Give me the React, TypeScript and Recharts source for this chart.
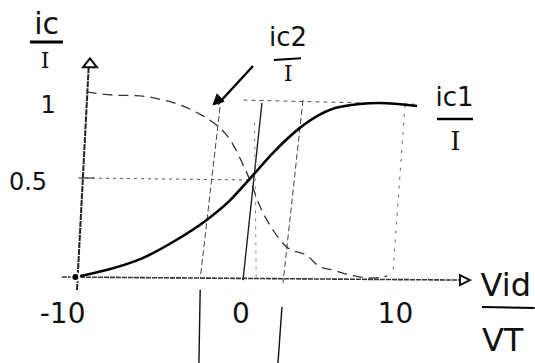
import React from 'react';
import { ComposedChart, Line, XAxis, YAxis, ReferenceLine, ReferenceDot } from 'recharts';

// ic1/I (solid) sampled along vid/VT
const ic1X = [-10.6, -8.6, -6.4, -4.4, -2.5, -1.0, 0.2, 1.75, 3.45, 5.9, 8.4, 10.75];
const ic1Y = [0, 0.04, 0.105, 0.2, 0.31, 0.42, 0.535, 0.69, 0.83, 0.944, 0.967, 0.95];

// ic2/I (dashed)
const ic2X = [-9.9, -8.25, -6.55, -5.1, -4.05, -2.95, -2.2, -0.8, -0.1, 0.3, 0.95, 1.75, 2.6, 3.9, 4.7, 5.5, 6.55, 8.0, 8.9];
const ic2Y = [1.028, 1.011, 1.006, 0.983, 0.956, 0.911, 0.872, 0.744, 0.62, 0.54, 0.39, 0.261, 0.167, 0.117, 0.056, 0.039, 0.011, -0.006, 0.006];

// tick labels
const xTickLabels = ['-10', '0', '10'];
const xTickPos = [-11.4, -0.25, 9.4];
const yTickLabels = ['1', '0.5'];
const yTickPos = [0.96, 0.53];

const ic1Data = ic1X.map((u, i) => ({ u, v: ic1Y[i] }));
const ic2Data = ic2X.map((u, i) => ({ u, v: ic2Y[i] }));

const X_DOMAIN: [number, number] = [-245 / 16, 290 / 16];
const Y_DOMAIN: [number, number] = [-86 / 180, 277 / 180];

const FONT = 'DejaVu Sans, sans-serif';
const SERIF = 'DejaVu Serif, serif';
const INK = '#111';

const txt = (value: string, size: number, family: string) => ({
  value,
  position: 'center' as const,
  fontSize: size,
  fill: INK,
  fontFamily: family,
});

const Txt = (u: number, v: number, value: string, size: number, key: string, family: string = FONT) => (
  <ReferenceDot key={key} x={u} y={v} r={1} fill="none" stroke="none" ifOverflow="visible" label={txt(value, size, family)} />
);

const seg = (x1: number, y1: number, x2: number, y2: number) => [
  { x: x1, y: y1 },
  { x: x2, y: y2 },
];

export default function App() {
  return (
    <div style={{ position: 'absolute', left: 0, top: 0, background: '#fff' }}>
      <ComposedChart width={535} height={363} margin={{ top: 0, right: 0, bottom: 0, left: 0 }}>
        <XAxis dataKey="u" type="number" domain={X_DOMAIN} allowDataOverflow hide />
        <YAxis dataKey="v" type="number" domain={Y_DOMAIN} allowDataOverflow hide />

        {/* axes */}
        <ReferenceLine segment={seg(-11.44, 0, 13.4, -0.017)} stroke="#333" strokeWidth={1.6} strokeDasharray="5 1" ifOverflow="visible" />
        <ReferenceLine segment={seg(-10.5, -0.072, -9.75, 1.2)} stroke="#222" strokeWidth={2} strokeDasharray="6 1" ifOverflow="visible" />
        <ReferenceLine segment={seg(-10.4, 0.55, -9.4, 0.55)} stroke="#333" strokeWidth={1.2} ifOverflow="visible" />
        <ReferenceDot
          x={14.06}
          y={-0.017}
          r={1}
          ifOverflow="visible"
          shape={(p: any) => (
            <path d={`M${p.cx} ${p.cy} L${p.cx - 10} ${p.cy - 5} L${p.cx - 10} ${p.cy + 5} Z`} fill="#fff" stroke="#111" strokeWidth={2} />
          )}
        />
        <ReferenceDot
          x={-9.69}
          y={1.215}
          r={1}
          ifOverflow="visible"
          shape={(p: any) => (
            <path d={`M${p.cx} ${p.cy} L${p.cx - 7} ${p.cy + 9} L${p.cx + 7} ${p.cy + 9} Z`} fill="#fff" stroke="#111" strokeWidth={2} />
          )}
        />

        {/* dotted guides */}
        <ReferenceLine segment={seg(-10, 0.55, 0.3, 0.539)} stroke="#555" strokeWidth={1} strokeDasharray="3 4" ifOverflow="visible" />
        <ReferenceLine segment={seg(-0.1, 0.983, 10.6, 0.96)} stroke="#555" strokeWidth={1} strokeDasharray="4 4" ifOverflow="visible" />
        <ReferenceLine segment={seg(-1.56, 0.944, -2.8, -0.01)} stroke="#444" strokeWidth={1} strokeDasharray="6 3" ifOverflow="visible" />
        <ReferenceLine segment={seg(-2.8, -0.07, -2.88, -0.478)} stroke="#111" strokeWidth={1.4} ifOverflow="visible" />
        <ReferenceLine segment={seg(1.06, 0.967, -0.125, -0.017)} stroke="#222" strokeWidth={1.4} ifOverflow="visible" />
        <ReferenceLine segment={seg(0.6, 0.86, 0.7, -0.01)} stroke="#888" strokeWidth={1} strokeDasharray="3 5" ifOverflow="visible" />
        <ReferenceLine segment={seg(3.625, 0.983, 2.375, -0.033)} stroke="#444" strokeWidth={1} strokeDasharray="6 3" ifOverflow="visible" />
        <ReferenceLine segment={seg(2.31, -0.167, 2.06, -0.478)} stroke="#111" strokeWidth={1.4} ifOverflow="visible" />
        <ReferenceLine segment={seg(10, 0.956, 9.25, 0.028)} stroke="#666" strokeWidth={1} strokeDasharray="3 6" ifOverflow="visible" />

        {/* curves */}
        <Line data={ic2Data} dataKey="v" type="monotone" stroke="#333" strokeWidth={1.3} strokeDasharray="10 6" dot={false} isAnimationActive={false} />
        <Line data={ic1Data} dataKey="v" type="monotone" stroke="#000" strokeWidth={2.6} dot={false} isAnimationActive={false} />

        {/* pointer arrow */}
        <ReferenceLine segment={seg(0.5, 1.172, -1.7, 0.96)} stroke="#000" strokeWidth={2.4} ifOverflow="visible" />
        <ReferenceDot
          x={-2}
          y={0.956}
          r={1}
          ifOverflow="visible"
          shape={(p: any) => (
            <path d={`M${p.cx} ${p.cy} L${p.cx + 11} ${p.cy - 3.5} L${p.cx + 4} ${p.cy - 11} Z`} fill="#000" stroke="#000" strokeWidth={1} />
          )}
        />

        {/* fraction bars */}
        <ReferenceLine segment={seg(-13.44, 1.306, -11.375, 1.306)} stroke="#000" strokeWidth={3} ifOverflow="visible" />
        <ReferenceLine segment={seg(1.8, 1.206, 3.5, 1.215)} stroke="#000" strokeWidth={2} ifOverflow="visible" />
        <ReferenceLine segment={seg(12, 0.878, 14.25, 0.878)} stroke="#000" strokeWidth={2.5} ifOverflow="visible" />
        <ReferenceLine segment={seg(14.81, -0.167, 18.1, -0.172)} stroke="#000" strokeWidth={2} ifOverflow="visible" />

        {/* text */}
        {Txt(-12.4, 1.41, 'ic', 30, 'ic')}
        {Txt(-12.5, 1.205, 'I', 22, 'iI', SERIF)}
        {Txt(2.69, 1.335, 'ic2', 26, 'ic2')}
        {Txt(2.69, 1.13, 'I', 22, 'ic2I', SERIF)}
        {Txt(13.1, 1.0, 'ic1', 26, 'ic1')}
        {Txt(13.15, 0.755, 'I', 26, 'ic1I', SERIF)}
        {Txt(16.3, -0.04, 'Vid', 32, 'vid')}
        {Txt(16.1, -0.35, 'VT', 32, 'vt')}
        {xTickLabels.map((t, i) => Txt(xTickPos[i], -0.2, t, 28, 'x' + i))}
        {yTickLabels.map((t, i) => Txt(i === 0 ? -12.3 : -13.56, yTickPos[i], t, 24, 'y' + i))}
      </ComposedChart>
    </div>
  );
}
